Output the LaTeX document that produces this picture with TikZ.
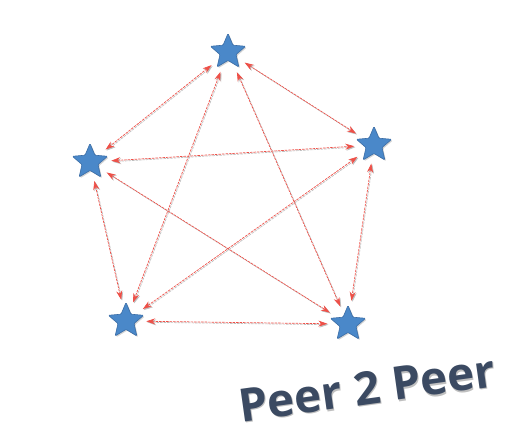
\documentclass[tikz,border=0pt]{standalone}
\usepackage{fontspec}
\setmainfont{Open Sans}
\usetikzlibrary{arrows.meta,shapes.geometric,shadows}
\definecolor{peerblue}{RGB}{74,136,201}
\definecolor{peeredge}{RGB}{58,108,165}
\definecolor{linkred}{RGB}{238,80,72}
\definecolor{titleslate}{RGB}{59,74,98}

\begin{document}
\begin{tikzpicture}[
			x=1pt,y=1pt,
			peer/.style={
				star,
				star points=5,
				star point ratio=2.2,
				minimum size=37pt,
				inner sep=0pt,
				fill=peerblue,
				draw=peeredge,
				line width=0.6pt,
				rounded corners=1pt,
				drop shadow={shadow xshift=1.2pt,shadow yshift=-1.2pt,opacity=0.35}
			},
			link/.style={
				{Stealth[length=9pt,width=6pt]}-{Stealth[length=9pt,width=6pt]},
				draw=linkred,
				line width=0.7pt,
				dashed,
				dash pattern=on 2.5pt off 1pt,
				shorten <=9pt,
				shorten >=9pt
			},
			linkshadow/.style={
				link,
				draw=black!25,
				transform canvas={xshift=1pt,yshift=-1pt}
			},
			titletext/.style={
				rotate=8,
				font=\bfseries\fontsize{46}{46}\selectfont
			}
		]
			
			\useasboundingbox (0,0) rectangle (508,440);
			
			\node[peer] (top) at (228,388) {};
			\node[peer] (right) at (374,295) {};
			\node[peer] (left) at (90,278) {};
			\node[peer] (botleft) at (126,119) {};
			\node[peer] (botright) at (348,116) {};
			
			% every peer talks to every other peer
			\foreach \a/\b in {top/left,top/right,top/botleft,top/botright,
				left/right,left/botleft,left/botright,
				right/botleft,right/botright,botleft/botright}{
				\draw[linkshadow] (\a) -- (\b);
				\draw[link] (\a) -- (\b);
			}
			
			\node[titletext,text=black!25] (titleshadow) at (368,50.5) {Peer 2 Peer};
			\node[titletext,text=titleslate] (title) at (367,52) {Peer 2 Peer};
			
		\end{tikzpicture}
\end{document}
